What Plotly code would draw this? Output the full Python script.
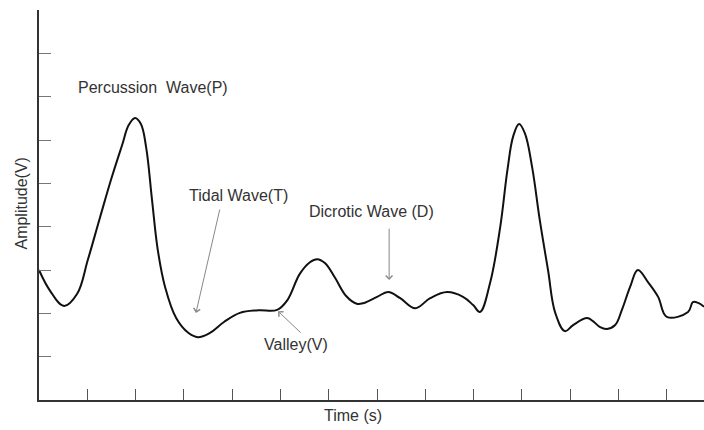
import plotly.graph_objects as go

# Pulse waveform (time units = x-axis tick spacing, amplitude units = y tick spacing)
time = [0.00, 0.23, 0.52, 0.79, 1.01, 1.26, 1.51, 1.72, 1.86, 1.99, 2.11, 2.22, 2.34, 2.46, 2.61,
        2.84, 3.09, 3.29, 3.54, 3.83, 4.16, 4.54, 4.93, 5.14, 5.40, 5.61, 5.76, 5.92, 6.13, 6.36,
        6.58, 6.73, 7.00, 7.23, 7.48, 7.79, 8.10, 8.45, 8.78, 8.99, 9.13,
        9.34, 9.55, 9.70, 9.82, 9.94, 10.06, 10.21, 10.37, 10.54, 10.69, 10.89,
        11.06, 11.35, 11.47, 11.62, 11.76, 11.93, 12.07, 12.24, 12.40, 12.61,
        12.82, 13.00, 13.44, 13.54, 13.65, 13.77]
amplitude = [3.00, 2.52, 2.17, 2.45, 3.23, 4.20, 5.15, 5.88, 6.35, 6.51, 6.37, 5.82, 4.62, 3.46, 2.61,
             1.89, 1.55, 1.45, 1.55, 1.80, 2.01, 2.07, 2.08, 2.30, 2.91, 3.18, 3.25, 3.16, 2.82, 2.40,
             2.22, 2.24, 2.38, 2.49, 2.35, 2.12, 2.35, 2.49, 2.38, 2.19, 2.03,
             2.70, 3.99, 5.31, 6.09, 6.37, 6.16, 5.38, 4.15, 3.00, 2.01, 1.59,
             1.73, 1.89, 1.82, 1.68, 1.64, 1.73, 2.08, 2.61, 3.00, 2.72,
             2.38, 1.92, 2.03, 2.26, 2.24, 2.15]

x_ticks = list(range(1, 14))
y_ticks = list(range(1, 9))

labels = ["Percussion  Wave(P)", "Tidal Wave(T)", "Dicrotic Wave (D)", "Valley(V)"]
label_x = [2.37, 4.13, 6.89, 5.33]
label_y = [7.22, 4.73, 4.34, 1.29]

# arrows: (tip_x, tip_y, tail_x, tail_y)
arrows = [(3.25, 2.01, 3.75, 4.43), (7.25, 2.77, 7.25, 3.99), (4.95, 2.05, 5.45, 1.52)]

FONT = "Liberation Sans, Arial, sans-serif"
FS = 16

fig = go.Figure()
fig.add_trace(go.Scatter(x=time, y=amplitude, mode="lines",
                         line=dict(color="#111111", width=2, shape="spline", smoothing=1.1),
                         hoverinfo="skip", showlegend=False))

annotations = []
for t, lx, ly in zip(labels, label_x, label_y):
    annotations.append(dict(x=lx, y=ly, xref="x", yref="y", text=t, showarrow=False,
                            xanchor="center", yanchor="middle",
                            font=dict(family=FONT, size=FS, color="#333333")))
for tx, ty, ax, ay in arrows:
    annotations.append(dict(x=tx, y=ty, ax=ax, ay=ay, xref="x", yref="y", axref="x", ayref="y",
                            text="", showarrow=True, arrowhead=4, arrowsize=1.3, arrowwidth=1,
                            arrowcolor="#888888"))
annotations.append(dict(x=0.472, y=-0.041, xref="paper", yref="paper", text="Time (s)",
                        xanchor="center", yanchor="middle",
                        showarrow=False, font=dict(family=FONT, size=FS, color="#333333")))
annotations.append(dict(x=-0.026, y=0.503, xref="paper", yref="paper", text="Amplitude(V)",
                        xanchor="center", yanchor="middle",
                        textangle=-90, showarrow=False,
                        font=dict(family=FONT, size=FS, color="#333333")))

fig.update_layout(
    width=704, height=430,
    margin=dict(l=39, r=0, t=10, b=30),
    paper_bgcolor="white", plot_bgcolor="white",
    annotations=annotations,
    xaxis=dict(range=[0, 13.77], showgrid=False, zeroline=False, showline=True,
               linecolor="#333333", linewidth=2, ticks="inside", ticklen=11, tickwidth=1,
               tickcolor="#555555", tickvals=x_ticks, showticklabels=False),
    yaxis=dict(range=[0, 9], showgrid=False, zeroline=False, showline=True,
               linecolor="#333333", linewidth=2, ticks="inside", ticklen=12, tickwidth=1,
               tickcolor="#777777", tickvals=y_ticks, showticklabels=False),
)

fig.write_html("out.html")
